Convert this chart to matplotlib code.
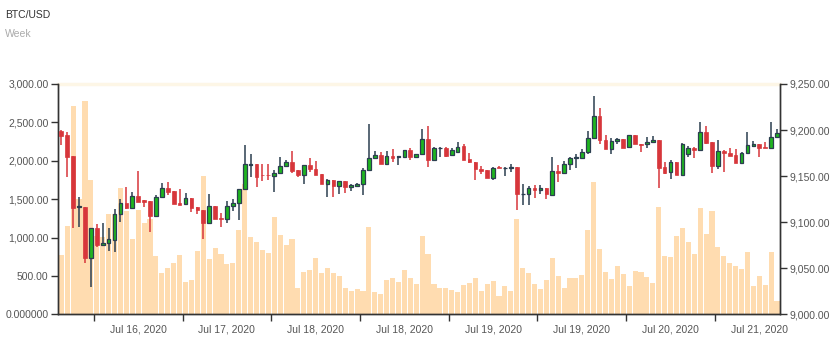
import matplotlib
matplotlib.use('Agg')
import matplotlib.pyplot as plt
from matplotlib.ticker import FuncFormatter, FixedLocator

plt.rcParams['font.family'] = ['Liberation Sans', 'DejaVu Sans']

# hourly BTC/USD candles (open, high, low, close) and volume
opens = [9199.3, 9194.6, 9171.4, 9116.5, 9116.8, 9061.5, 9093.3, 9074.9, 9077.0, 9080.6,
         9108.5, 9121.2, 9115.7, 9128.4, 9124.1, 9123.0, 9106.7, 9126.9, 9136.7, 9133.8,
         9120.4, 9119.4, 9125.9, 9116.5, 9113.2, 9099.1, 9117.5, 9104.2, 9103.0, 9117.2,
         9120.4, 9135.6, 9162.5, 9163.1, 9151.2, 9151.2, 9150.4, 9153.0, 9161.0, 9165.7,
         9156.6, 9151.2, 9162.0, 9157.3, 9152.3, 9141.1, 9145.8, 9139.6, 9145.1, 9138.5,
         9139.3, 9141.4, 9156.6, 9169.2, 9172.9, 9163.1, 9172.1, 9170.9, 9171.0, 9178.3,
         9171.0, 9173.9, 9189.9, 9167.5, 9180.1, 9180.9, 9172.9, 9176.5, 9182.7, 9168.2,
         9165.0, 9158.1, 9156.9, 9148.2, 9159.8, 9158.4, 9159.1, 9159.8, 9130.1, 9130.1,
         9137.4, 9134.5, 9137.4, 9129.0, 9155.4, 9152.9, 9162.7, 9169.2, 9170.0, 9176.1,
         9191.0, 9215.3, 9188.8, 9179.7, 9188.0, 9189.8, 9181.9, 9194.6, 9184.8, 9184.4,
         9187.3, 9189.2, 9159.5, 9154.1, 9165.7, 9151.2, 9173.9, 9180.9, 9178.3, 9198.2,
         9187.3, 9160.9, 9177.2, 9174.7, 9172.9, 9164.6, 9174.7, 9183.0, 9184.4, 9181.2,
         9180.1, 9192.0]
highs = [9200.0, 9198.2, 9171.4, 9127.7, 9116.8, 9093.3, 9098.0, 9098.7, 9093.3, 9114.3,
         9125.1, 9138.5, 9133.1, 9155.5, 9124.1, 9123.0, 9129.5, 9142.1, 9143.2, 9133.8,
         9136.0, 9131.3, 9125.9, 9116.5, 9113.2, 9130.2, 9117.5, 9109.6, 9123.3, 9124.8,
         9136.4, 9183.4, 9174.0, 9163.1, 9163.1, 9163.1, 9156.6, 9170.3, 9167.5, 9177.6,
         9156.6, 9162.0, 9169.2, 9166.4, 9152.3, 9146.5, 9145.8, 9144.7, 9145.1, 9141.4,
         9142.8, 9158.4, 9206.5, 9177.6, 9176.5, 9177.2, 9179.0, 9171.3, 9178.3, 9180.1,
         9173.9, 9201.1, 9204.4, 9181.9, 9181.9, 9181.9, 9180.9, 9186.6, 9185.2, 9175.4,
         9165.0, 9160.6, 9156.9, 9159.8, 9160.9, 9159.8, 9162.7, 9159.8, 9141.0, 9139.2,
         9140.3, 9140.0, 9137.4, 9170.6, 9161.9, 9166.3, 9170.6, 9174.2, 9179.8, 9198.9,
         9237.0, 9224.3, 9194.2, 9191.6, 9191.6, 9189.8, 9194.6, 9194.6, 9184.8, 9192.0,
         9193.5, 9189.2, 9165.7, 9167.5, 9165.7, 9185.5, 9182.7, 9181.9, 9209.1, 9204.3,
         9187.3, 9189.2, 9178.3, 9180.1, 9179.4, 9176.5, 9198.2, 9188.0, 9184.4, 9187.3,
         9209.1, 9201.1]
lows = [9183.7, 9149.4, 9093.7, 9095.1, 9055.3, 9030.0, 9073.4, 9074.3, 9069.1, 9068.0,
        9100.5, 9114.3, 9115.7, 9122.3, 9116.8, 9089.7, 9106.7, 9126.9, 9129.5, 9119.4,
        9118.7, 9119.4, 9111.4, 9108.5, 9081.4, 9099.1, 9103.0, 9095.1, 9098.7, 9112.1,
        9102.4, 9135.6, 9149.4, 9138.5, 9144.7, 9146.0, 9133.1, 9152.3, 9159.5, 9153.0,
        9149.4, 9141.4, 9154.8, 9151.2, 9141.4, 9127.0, 9127.0, 9130.2, 9132.0, 9133.8,
        9137.8, 9129.5, 9156.6, 9169.2, 9163.1, 9163.1, 9164.9, 9162.0, 9171.0, 9167.5,
        9171.0, 9173.9, 9160.2, 9167.5, 9171.0, 9171.0, 9172.1, 9176.5, 9167.1, 9163.8,
        9145.4, 9152.6, 9148.2, 9145.8, 9158.4, 9150.1, 9154.4, 9112.8, 9118.7, 9118.7,
        9126.6, 9130.1, 9124.7, 9129.0, 9143.9, 9151.9, 9156.2, 9159.1, 9169.2, 9174.3,
        9191.0, 9184.5, 9179.7, 9174.3, 9184.4, 9180.0, 9181.2, 9184.4, 9175.8, 9180.9,
        9186.6, 9137.4, 9152.3, 9146.9, 9151.2, 9151.2, 9170.3, 9169.2, 9178.3, 9184.4,
        9153.7, 9157.3, 9154.1, 9172.1, 9164.6, 9162.8, 9174.7, 9181.9, 9170.3, 9180.1,
        9180.1, 9192.0]
closes = [9193.9, 9170.3, 9115.4, 9117.2, 9060.7, 9093.3, 9075.2, 9077.0, 9081.4, 9108.5,
          9121.2, 9115.7, 9128.4, 9122.3, 9122.3, 9106.7, 9126.9, 9136.7, 9133.1, 9119.4,
          9119.0, 9125.9, 9115.7, 9112.8, 9099.5, 9117.9, 9103.0, 9103.4, 9117.2, 9120.4,
          9136.4, 9162.7, 9163.5, 9149.4, 9150.9, 9151.0, 9153.0, 9161.0, 9165.7, 9155.9,
          9151.2, 9162.0, 9157.3, 9151.2, 9141.4, 9145.8, 9139.6, 9144.7, 9137.8, 9140.0,
          9141.4, 9156.6, 9169.2, 9172.9, 9163.1, 9172.1, 9169.2, 9171.3, 9178.3, 9171.0,
          9173.9, 9189.9, 9167.5, 9180.1, 9180.9, 9171.8, 9178.3, 9181.9, 9167.1, 9165.3,
          9157.7, 9155.2, 9148.2, 9159.1, 9158.4, 9159.1, 9159.8, 9130.1, 9130.9, 9137.4,
          9134.5, 9137.4, 9130.1, 9155.4, 9153.6, 9163.4, 9169.2, 9170.6, 9176.1, 9191.0,
          9215.3, 9188.8, 9179.7, 9188.0, 9189.8, 9180.0, 9194.6, 9184.4, 9184.1, 9187.3,
          9189.2, 9158.4, 9153.7, 9165.7, 9151.2, 9184.4, 9180.9, 9178.3, 9198.2, 9186.2,
          9160.9, 9177.2, 9174.7, 9172.1, 9164.6, 9175.4, 9183.7, 9184.4, 9180.9, 9180.1,
          9192.0, 9197.1]
volumes = [772, 1155, 2709, 1497, 2780, 1745, 1020, 1011, 1306, 1302,
           1641, 1344, 980, 1360, 1193, 1236, 759, 542, 607, 664,
           772, 425, 447, 825, 1800, 720, 868, 785, 650, 664,
           1098, 1693, 1011, 937, 837, 794, 1272, 1031, 902, 976,
           349, 555, 577, 729, 533, 607, 542, 503, 347, 304,
           330, 308, 1133, 295, 264, 447, 468, 416, 577, 468,
           390, 1023, 785, 390, 349, 338, 316, 295, 382, 403,
           468, 308, 395, 434, 238, 369, 308, 1237, 607, 542,
           395, 326, 447, 729, 499, 338, 477, 468, 512, 1098,
           1728, 846, 555, 464, 630, 525, 368, 564, 555, 490,
           412, 1402, 759, 742, 1024, 1120, 946, 785, 1389, 1046,
           1346, 872, 764, 672, 629, 590, 816, 368, 503, 382,
           816, 178]
date_labels = ['Jul 16, 2020', 'Jul 17, 2020', 'Jul 18, 2020', 'Jul 18, 2020',
               'Jul 19, 2020', 'Jul 19, 2020', 'Jul 20, 2020', 'Jul 21, 2020']

n = len(closes)
x = list(range(n))

fig = plt.figure(figsize=(8.37, 3.44), dpi=100)
ax = fig.add_axes([0.0697, 0.0863, 0.8622, 0.6697])
ax2 = ax.twinx()

# volume on left axis
ax.bar(x, volumes, width=0.86, color='#ffdcb0', zorder=1)
ax.set_ylim(0, 3000)
ax.set_xlim(-0.5, n - 0.5)
ax.axhline(3000, color='#fdf6e6', lw=2.5, zorder=0, clip_on=False)

# candles on right axis
up_c = '#1fb51f'
dn_c = '#d7363b'
edge = '#2b3e50'
for i in range(n):
    o, h, l, c = opens[i], highs[i], lows[i], closes[i]
    if c >= o:
        ax2.vlines(i, l, h, color=edge, lw=1.1, zorder=3)
        ax2.bar(i, max(c - o, 0.6), bottom=o, width=0.62, color=up_c,
                edgecolor=edge, linewidth=0.9, zorder=4)
    else:
        ax2.vlines(i, l, h, color=dn_c, lw=1.1, zorder=3)
        ax2.bar(i, max(o - c, 0.6), bottom=c, width=0.62, color=dn_c,
                edgecolor=dn_c, linewidth=0.5, zorder=4)
ax2.set_ylim(9000, 9250)

# x ticks between labels
tick_pos = [5.5 + 15 * k for k in range(8)]
ax.xaxis.set_major_locator(FixedLocator(tick_pos))
ax.set_xticklabels([''] * len(tick_pos))
ax.xaxis.set_minor_locator(FixedLocator([p + 7.5 for p in tick_pos]))
ax.xaxis.set_minor_formatter(FuncFormatter(lambda v, p: date_labels[int(round((v - 13) / 15))]))
ax.tick_params(axis='x', which='major', length=5, width=1, color='#333333')
ax.tick_params(axis='x', which='minor', length=0, pad=7, labelsize=7.5, labelcolor='#555555')

ax.set_yticks([0, 500, 1000, 1500, 2000, 2500, 3000])
ax.yaxis.set_major_formatter(FuncFormatter(lambda v, p: '0.000000' if v == 0 else '{:,.2f}'.format(v)))
ax.tick_params(axis='y', length=5, width=1, color='#333333', labelsize=7.5, labelcolor='#555555', pad=2)

ax2.set_yticks([9000, 9050, 9100, 9150, 9200, 9250])
ax2.yaxis.set_major_formatter(FuncFormatter(lambda v, p: '{:,.2f}'.format(v)))
ax2.tick_params(axis='y', length=5, width=1, color='#333333', labelsize=7.5, labelcolor='#555555', pad=2)

for a in (ax, ax2):
    a.spines['top'].set_visible(False)
    for s in ('left', 'right', 'bottom'):
        a.spines[s].set_color('#333333')
        a.spines[s].set_linewidth(1)

fig.text(5 / 837, 1 - 15 / 344, 'BTC/USD', fontsize=7.5, color='#333333', va='center')
fig.text(5 / 837, 1 - 34 / 344, 'Week', fontsize=7.5, color='#aaaaaa', va='center')

fig.savefig('out.png', dpi=100)
